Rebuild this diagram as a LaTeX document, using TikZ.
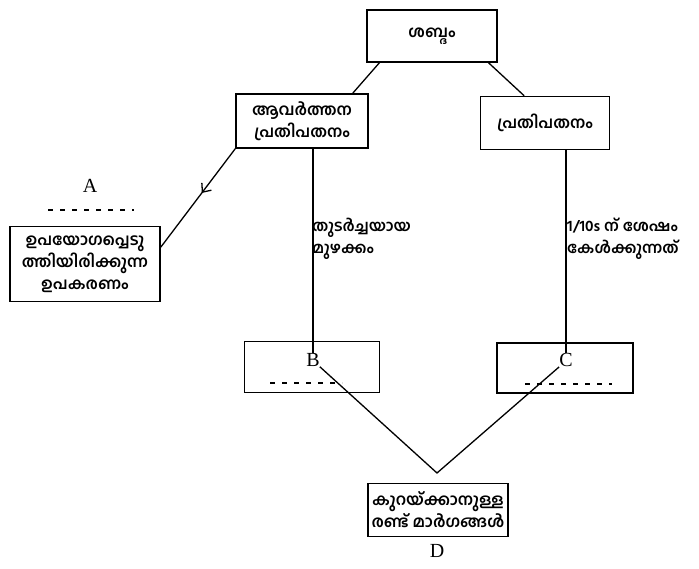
\documentclass[tikz,border=0pt]{standalone}
\usepackage{fontspec}
\newfontfamily\ml[Script=Malayalam]{Hind Kochi}
\newfontfamily\lat{Liberation Serif}
\usetikzlibrary{arrows.meta,decorations.markings,calc}
\begin{document}
\begin{tikzpicture}[x=1pt,y=-1pt,
  box/.style={draw=black,line width=1.6pt,inner sep=2pt,align=center,font=\ml\bfseries\fontsize{16}{22}\selectfont},
  conn/.style={draw=black,line width=1.3pt},
  lbl/.style={font=\ml\bfseries\fontsize{15.5}{22}\selectfont,align=left,inner sep=0pt},
  letter/.style={font=\lat\fontsize{20}{20}\selectfont,inner sep=0pt}]
\useasboundingbox (0,0) rectangle (699,568);
\fill[white] (0,0) rectangle (699,568);
\node[box,minimum width=130pt,minimum height=52pt] (top) at (432,36) {ശബ്ദം};
\node[box,minimum width=132pt,minimum height=54pt] (av) at (302,121) {ആവർത്തന\\പ്രതിപതനം};
\node[box,minimum width=129pt,minimum height=53pt] (pr) at (545,123) {പ്രതിപതനം};
\node[box,minimum width=150pt,minimum height=75pt] (lf) at (85,264) {ഉപയോഗപ്പെടു\\ത്തിയിരിക്കുന്ന\\ഉപകരണം};
\node[box,minimum width=135pt,minimum height=51pt] (bb) at (312,367) {};
\node[box,minimum width=136pt,minimum height=50pt] (cb) at (565,368) {};
\node[box,minimum width=140pt,minimum height=53pt] (db) at (438,510) {കുറയ്ക്കാനുള്ള\\രണ്ട് മാർഗങ്ങൾ};
\node[letter] (A) at (90,186) {A};
\node[letter] (B) at (313,360) {B};
\node[letter] (C) at (566,360) {C};
\node[letter] (D) at (437,551) {D};
\node[lbl,anchor=west] (t1) at (312,239) {തുടർച്ചയായ\\മുഴക്കം};
\node[lbl,anchor=west] (t2) at (567,239) {1/10s ന് ശേഷം\\കേൾക്കുന്നത്};
\coordinate (apex) at (437,473);
% dashed blanks
\draw[line width=1.4pt,dash pattern=on 5pt off 7pt] (48,210) -- (134,210);
\draw[line width=1.4pt,dash pattern=on 5pt off 7pt] (270,383) -- (342,383);
\draw[line width=1.4pt,dash pattern=on 5pt off 7pt] (525,384) -- (612,384);
% connectors
\draw[conn] ($(top.south west)!0.1!(top.south east)$) -- ($(av.north west)!0.88!(av.north east)$);
\draw[conn] ($(top.south west)!0.93!(top.south east)$) -- ($(pr.north west)!0.34!(pr.north east)$);
\draw[conn,postaction={decorate},decoration={markings,mark=at position 0.45 with {\arrow{Straight Barb[length=7pt,width=12pt,line width=1.3pt]}}}]
  (av.south west) -- ($(lf.north east)!0.28!(lf.south east)$);
\draw[conn] (av.south -| B.north) -- (B.north);
\draw[conn] (pr.south -| C.north) -- (C.north);
\draw[conn] (B.south east) -- (apex) -- (C.south west);
\end{tikzpicture}
\end{document}
